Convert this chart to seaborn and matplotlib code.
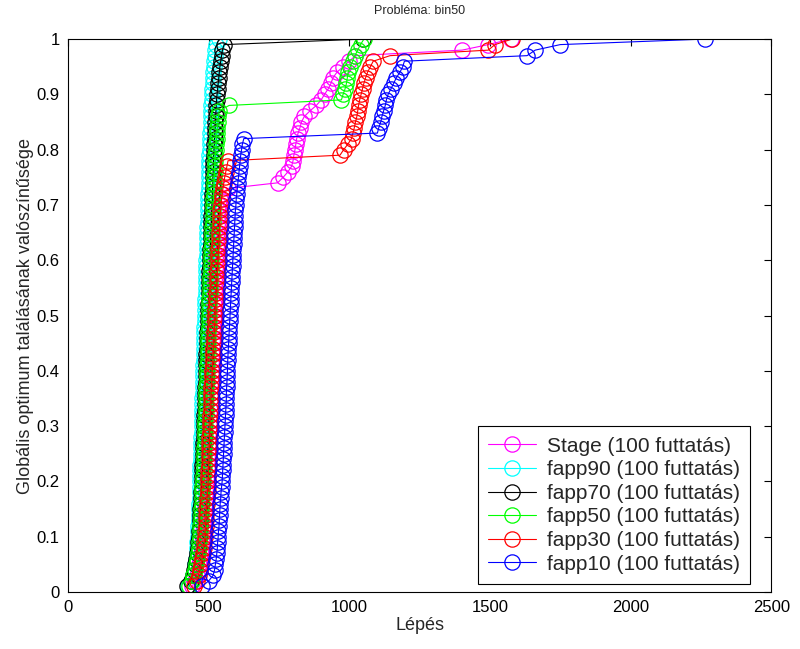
import matplotlib
matplotlib.use("Agg")
import matplotlib.pyplot as plt
import seaborn as sns
import numpy as np
import pandas as pd

# probability levels (y) shared by all series: 0.01 ... 1.00 (100 runs)
prob = [round(0.01 * (i + 1), 2) for i in range(100)]

stage = [441, 452, 459, 464, 467, 470, 473, 475, 477, 480,
         481, 483, 484, 486, 487, 488, 490, 491, 492, 494,
         495, 496, 497, 498, 499, 500, 501, 502, 503, 504,
         505, 505, 506, 507, 508, 508, 509, 510, 511, 511,
         512, 513, 513, 514, 515, 516, 516, 517, 518, 519,
         519, 520, 521, 522, 522, 523, 524, 525, 526, 526,
         527, 528, 529, 530, 531, 532, 533, 534, 535, 537,
         540, 546, 570, 745, 765, 782, 795, 800, 803, 807,
         810, 813, 818, 825, 830, 840, 860, 883, 900, 912,
         925, 935, 942, 956, 978, 1000, 1022, 1401, 1494, 1575]

fapp90 = [427, 438, 445, 450, 453, 455, 457, 459, 460, 461,
          462, 463, 464, 465, 466, 467, 468, 468, 469, 469,
          470, 471, 471, 472, 473, 473, 474, 474, 475, 476,
          476, 477, 477, 478, 478, 479, 479, 480, 480, 481,
          481, 482, 482, 483, 483, 484, 484, 485, 486, 487,
          487, 488, 488, 489, 489, 490, 491, 491, 492, 492,
          493, 493, 494, 494, 495, 495, 496, 497, 497, 498,
          498, 499, 500, 500, 501, 501, 502, 503, 503, 504,
          505, 505, 506, 507, 508, 508, 509, 510, 511, 512,
          513, 514, 515, 516, 518, 519, 521, 523, 527, 537]

fapp70 = [423, 436, 443, 448, 452, 455, 458, 461, 463, 466,
          467, 468, 469, 470, 471, 472, 473, 474, 475, 476,
          477, 478, 478, 479, 480, 481, 481, 482, 483, 484,
          484, 485, 486, 486, 487, 488, 488, 489, 490, 490,
          491, 492, 492, 493, 494, 494, 495, 496, 497, 498,
          498, 499, 500, 500, 501, 502, 502, 503, 504, 505,
          505, 506, 507, 507, 508, 509, 510, 510, 511, 512,
          513, 513, 514, 515, 515, 516, 517, 517, 518, 519,
          520, 521, 522, 523, 524, 525, 526, 527, 528, 530,
          532, 534, 536, 538, 540, 543, 546, 549, 555, 1050]

fapp50 = [430, 440, 446, 450, 455, 458, 461, 464, 466, 469,
          470, 471, 472, 473, 474, 475, 476, 477, 478, 480,
          481, 482, 482, 483, 484, 485, 486, 486, 487, 488,
          488, 489, 490, 490, 491, 492, 492, 493, 494, 494,
          495, 496, 496, 497, 498, 498, 499, 500, 500, 501,
          502, 502, 503, 504, 505, 505, 506, 507, 508, 508,
          509, 510, 511, 511, 512, 513, 514, 514, 515, 516,
          517, 518, 519, 519, 520, 521, 522, 523, 524, 526,
          527, 528, 529, 531, 533, 535, 537, 573, 972, 978,
          985, 990, 993, 996, 1003, 1012, 1020, 1030, 1040, 1052]

fapp30 = [448, 458, 464, 468, 473, 476, 479, 482, 485, 487,
          488, 489, 490, 491, 492, 493, 494, 496, 497, 498,
          499, 499, 500, 501, 501, 502, 503, 503, 504, 505,
          505, 506, 507, 508, 508, 509, 510, 511, 512, 513,
          514, 515, 516, 517, 518, 519, 520, 521, 522, 523,
          524, 525, 526, 527, 528, 529, 530, 531, 532, 533,
          534, 535, 536, 537, 538, 539, 540, 541, 542, 544,
          546, 548, 551, 554, 557, 561, 565, 569, 967, 980,
          995, 1008, 1013, 1018, 1022, 1027, 1030, 1033, 1037, 1042,
          1047, 1052, 1058, 1065, 1075, 1085, 1145, 1494, 1518, 1579]

fapp10 = [476, 500, 516, 521, 524, 527, 529, 531, 532, 534,
          535, 537, 538, 539, 540, 541, 543, 544, 546, 548,
          549, 550, 551, 552, 553, 554, 555, 556, 557, 558,
          559, 560, 561, 562, 563, 563, 564, 565, 566, 567,
          567, 568, 569, 570, 571, 572, 573, 574, 575, 576,
          577, 578, 579, 580, 581, 582, 583, 584, 585, 586,
          587, 588, 589, 590, 591, 592, 593, 594, 595, 597,
          598, 600, 602, 604, 606, 608, 610, 612, 614, 617,
          620, 625, 1100, 1105, 1112, 1116, 1122, 1128, 1132, 1138,
          1148, 1158, 1167, 1180, 1190, 1196, 1632, 1661, 1750, 2265]

labels = ["Stage (100 futtatás)", "fapp90 (100 futtatás)", "fapp70 (100 futtatás)",
          "fapp50 (100 futtatás)", "fapp30 (100 futtatás)", "fapp10 (100 futtatás)"]
series = [stage, fapp90, fapp70, fapp50, fapp30, fapp10]
colors = ["#ff00ff", "#00ffff", "#000000", "#00ff00", "#ff0000", "#0000ff"]

x_ticks = [0, 500, 1000, 1500, 2000, 2500]
y_ticks = [0, 0.1, 0.2, 0.3, 0.4, 0.5, 0.6, 0.7, 0.8, 0.9, 1]
y_ticklabels = ["0", "0.1", "0.2", "0.3", "0.4", "0.5", "0.6", "0.7", "0.8", "0.9", "1"]

sns.set_style("white")
plt.rcParams['font.family'] = ['Liberation Sans', 'DejaVu Sans']

fig = plt.figure(figsize=(8.0, 6.49), dpi=100)
ax = fig.add_axes([0.085, 0.0878, 0.879, 0.852])

for lab, vals, col in zip(labels, series, colors):
    df = pd.DataFrame({"x": vals, "y": prob})
    sns.lineplot(data=df, x="x", y="y", ax=ax, sort=False, estimator=None,
                 color=col, linewidth=0.8, marker="o", markersize=11,
                 markerfacecolor="none", markeredgecolor=col,
                 markeredgewidth=0.9, label=lab, legend=False)

ax.set_xlim(0, 2500)
ax.set_ylim(0, 1)
ax.set_xticks(x_ticks)
ax.set_xticklabels([str(t) for t in x_ticks])
ax.set_yticks(y_ticks)
ax.set_yticklabels(y_ticklabels)
ax.tick_params(direction="in", length=5, width=0.8, top=True, right=True,
               labelsize=12, colors="black", pad=6)
for sp in ax.spines.values():
    sp.set_visible(True)
    sp.set_color("black")
    sp.set_linewidth(0.8)

ax.set_xlabel("Lépés", fontsize=13, labelpad=1)
ax.set_ylabel("Globális optimum találásának valószínűsége", fontsize=13, labelpad=2)
ax.set_title("Probléma: bin50", fontsize=9, pad=18)

handles = ax.get_lines()[:len(labels)]
leg = ax.legend(handles, labels, loc="lower right", bbox_to_anchor=(0.970, 0.0145),
                bbox_transform=ax.transAxes, borderaxespad=0, fontsize=15,
                frameon=True, fancybox=False, edgecolor="black", framealpha=1,
                handlelength=2.3, borderpad=0.5, labelspacing=0.22, handletextpad=0.5)
leg.get_frame().set_linewidth(0.8)

fig.savefig("out.png", dpi=100)
